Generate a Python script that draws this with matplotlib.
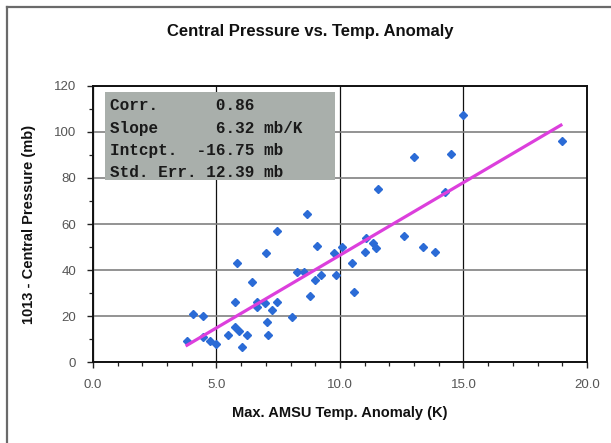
import numpy as np
import matplotlib.pyplot as plt
from matplotlib.lines import Line2D
from matplotlib.patches import Rectangle
from matplotlib.ticker import MultipleLocator

# Max. AMSU temperature anomaly (K) and 1013 - central pressure (mb)
temp_anom = [3.8, 4.05, 4.45, 4.45, 4.75, 5.0, 5.45, 5.75, 5.9, 5.75,
             5.85, 6.05, 6.25, 6.45, 6.65, 6.65, 6.95, 7.0, 7.05, 7.1,
             7.25, 7.45, 7.45, 8.05, 8.25, 8.55, 8.65, 8.8, 9.0, 9.05,
             9.25, 9.75, 9.85, 10.1, 10.5, 10.55, 11.0, 11.05, 11.35, 11.45,
             11.55, 12.6, 13.0, 13.35, 13.85, 14.25, 14.5, 15.0, 19.0]
pres_drop = [9.0, 21.0, 20.0, 10.7, 9.0, 8.0, 11.7, 15.4, 13.6, 26.0,
             43.0, 6.7, 11.7, 34.8, 26.2, 23.8, 25.8, 47.2, 17.5, 11.7,
             22.6, 26.0, 57.0, 19.7, 39.0, 39.0, 64.2, 28.8, 35.7, 50.6,
             37.8, 47.2, 37.8, 50.0, 42.9, 30.6, 47.7, 53.8, 51.6, 49.7,
             75.0, 55.0, 89.3, 50.0, 47.7, 74.0, 90.3, 107.4, 96.2]

# regression stats printed in the box
corr = 0.86
slope = 6.32
intercept = -16.75
std_err = 12.39

plt.rcParams['font.family'] = ['Liberation Sans', 'DejaVu Sans']

fig = plt.figure(figsize=(6.11, 4.43), dpi=100)
ax = fig.add_axes([0.1522, 0.1828, 0.8085, 0.6231])

# outer frame of the chart object
fig.add_artist(Line2D([0.0115, 0.0115], [0.0, 0.984], color='#6a6a6a', lw=1.6,
                      transform=fig.transFigure))
fig.add_artist(Line2D([0.0115, 1.0], [0.984, 0.984], color='#6a6a6a', lw=1.6,
                      transform=fig.transFigure))

ax.set_xlim(0, 20)
ax.set_ylim(0, 120)
ax.xaxis.set_major_locator(MultipleLocator(5))
ax.xaxis.set_minor_locator(MultipleLocator(1))
ax.yaxis.set_major_locator(MultipleLocator(20))
ax.yaxis.set_minor_locator(MultipleLocator(10))
ax.set_xticklabels([f'{v:.1f}' for v in ax.get_xticks()])

ax.grid(axis='y', which='major', color='#808080', lw=1.2)
ax.grid(axis='x', which='major', color='#111111', lw=0.9)
ax.set_axisbelow(True)

ax.tick_params(which='major', direction='out', length=4, width=1, color='#222222',
               labelsize=9.5, labelcolor='#555555')
ax.tick_params(which='minor', direction='out', length=3, width=0.9, color='#222222')
ax.tick_params(axis='x', pad=8)
ax.tick_params(axis='y', pad=8)
for s in ax.spines.values():
    s.set_linewidth(1.4)
    s.set_color('#111111')

ax.plot(temp_anom, pres_drop, linestyle='none', marker='D', ms=4.5,
        color='#2b6bd6', mec='#2b6bd6', zorder=3)

xfit = np.array([min(temp_anom) - 0.05, max(temp_anom)])
ax.plot(xfit, slope * xfit + intercept, color='#dc3fdc', lw=2.3,
        solid_capstyle='butt', zorder=4)

# stats box
ax.add_patch(Rectangle((0.024, 0.659), 0.466, 0.319, transform=ax.transAxes,
                       fc='#a9afab', ec='none', zorder=5))
stats = (f"Corr.      {corr:.2f}\n"
         f"Slope      {slope:.2f} mb/K\n"
         f"Intcpt.  {intercept:.2f} mb\n"
         f"Std. Err. {std_err:.2f} mb")
ax.text(0.035, 0.955, stats, transform=ax.transAxes, va='top', ha='left',
        family='Liberation Mono', fontweight='bold', fontsize=11.5,
        color='#1a1a1a', linespacing=1.6, zorder=6)

fig.text(0.507, 0.928, 'Central Pressure vs. Temp. Anomaly', ha='center', va='center',
         fontsize=12, fontweight='bold', color='#111111')
ax.set_xlabel('Max. AMSU Temp. Anomaly (K)', fontsize=10.5, fontweight='bold',
              color='#111111', labelpad=11)
ax.set_ylabel('1013 - Central Pressure (mb)', fontsize=10.5, fontweight='bold',
              color='#111111', labelpad=13)

fig.savefig('out.png', dpi=100)
